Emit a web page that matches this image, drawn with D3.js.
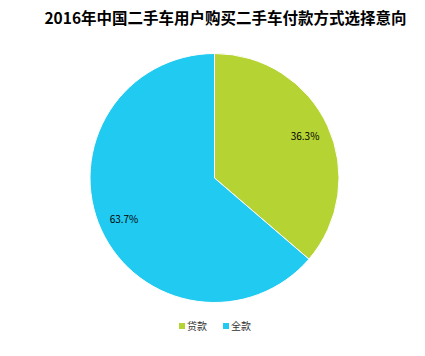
<!DOCTYPE html>
<html><head><meta charset="utf-8">
<script src="https://cdn.jsdelivr.net/npm/d3@7/dist/d3.min.js"></script>
<style>body{margin:0;background:#fff;}svg{display:block;}</style>
</head><body>
<svg id="c" width="425" height="356"></svg>
<script>
const title = "2016年中国二手车用户购买二手车付款方式选择意向";
const categories = ["贷款", "全款"];
const values = [36.3, 63.7];
const colors = ["#b5d333", "#21caf0"];

const svg = d3.select("#c");
const font = "'Microsoft YaHei','Noto Sans CJK SC',sans-serif";
svg.append("text").attr("x", 225.5).attr("y", 24).attr("text-anchor", "middle")
  .attr("font-family", font).attr("font-size", 15.5).attr("font-weight", "bold")
  .attr("fill", "#000").text(title);

const cx = 214.5, cy = 178, r = 124.5;
const pie = d3.pie().sort(null).value(d => d)(values);
const arc = d3.arc().innerRadius(0).outerRadius(r);
const labelArc = d3.arc().innerRadius(r * 0.8).outerRadius(r * 0.8);
const g = svg.append("g").attr("transform", `translate(${cx},${cy})`);
g.selectAll("path").data(pie).join("path").attr("d", arc)
  .attr("fill", (d, i) => colors[i]).attr("stroke", "#fff").attr("stroke-width", 1);
g.selectAll("text").data(pie).join("text")
  .attr("transform", d => `translate(${labelArc.centroid(d)})`)
  .attr("text-anchor", "middle").attr("dy", "0.35em")
  .attr("font-family", font).attr("font-size", 10).attr("fill", "#000")
  .text(d => d.data.toFixed(1) + "%");

const legendX = [179, 223];
const lg = svg.append("g");
categories.forEach((c, i) => {
  lg.append("rect").attr("x", legendX[i]).attr("y", 323).attr("width", 6).attr("height", 6).attr("fill", colors[i]);
  lg.append("text").attr("x", legendX[i] + 8).attr("y", 329.5).attr("font-family", font)
    .attr("font-size", 10).attr("fill", "#333").text(c);
});
</script>
</body></html>
